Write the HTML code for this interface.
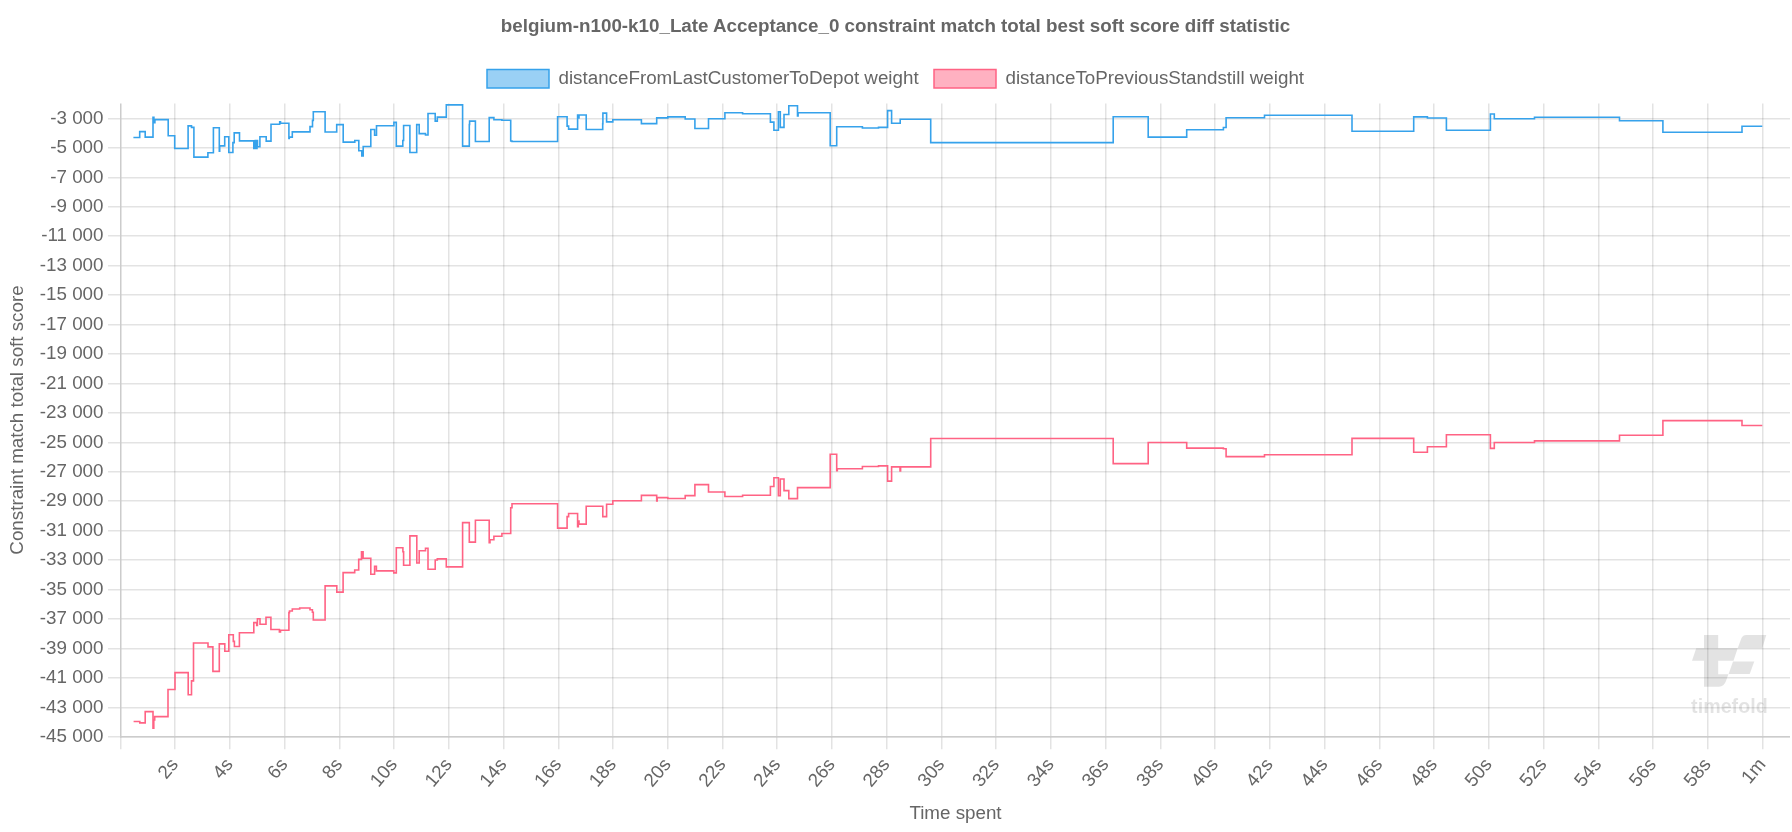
<!DOCTYPE html>
<html><head><meta charset="utf-8"><style>
html,body{margin:0;padding:0;background:#fff;width:1792px;height:832px;overflow:hidden}
svg{display:block;will-change:transform}
.t{font-family:"Liberation Sans",sans-serif;font-size:18.8px;fill:#666}
</style></head><body>
<svg width="1792" height="832" viewBox="0 0 1792 832">
<line x1="108" y1="118.75" x2="1790" y2="118.75" stroke="rgba(0,0,0,0.11)" stroke-width="1.5"/>
<line x1="108" y1="147.75" x2="1790" y2="147.75" stroke="rgba(0,0,0,0.11)" stroke-width="1.5"/>
<line x1="108" y1="177.75" x2="1790" y2="177.75" stroke="rgba(0,0,0,0.11)" stroke-width="1.5"/>
<line x1="108" y1="206.75" x2="1790" y2="206.75" stroke="rgba(0,0,0,0.11)" stroke-width="1.5"/>
<line x1="108" y1="235.75" x2="1790" y2="235.75" stroke="rgba(0,0,0,0.11)" stroke-width="1.5"/>
<line x1="108" y1="265.75" x2="1790" y2="265.75" stroke="rgba(0,0,0,0.11)" stroke-width="1.5"/>
<line x1="108" y1="294.75" x2="1790" y2="294.75" stroke="rgba(0,0,0,0.11)" stroke-width="1.5"/>
<line x1="108" y1="324.75" x2="1790" y2="324.75" stroke="rgba(0,0,0,0.11)" stroke-width="1.5"/>
<line x1="108" y1="353.75" x2="1790" y2="353.75" stroke="rgba(0,0,0,0.11)" stroke-width="1.5"/>
<line x1="108" y1="383.75" x2="1790" y2="383.75" stroke="rgba(0,0,0,0.11)" stroke-width="1.5"/>
<line x1="108" y1="412.75" x2="1790" y2="412.75" stroke="rgba(0,0,0,0.11)" stroke-width="1.5"/>
<line x1="108" y1="442.75" x2="1790" y2="442.75" stroke="rgba(0,0,0,0.11)" stroke-width="1.5"/>
<line x1="108" y1="471.75" x2="1790" y2="471.75" stroke="rgba(0,0,0,0.11)" stroke-width="1.5"/>
<line x1="108" y1="500.75" x2="1790" y2="500.75" stroke="rgba(0,0,0,0.11)" stroke-width="1.5"/>
<line x1="108" y1="530.75" x2="1790" y2="530.75" stroke="rgba(0,0,0,0.11)" stroke-width="1.5"/>
<line x1="108" y1="559.75" x2="1790" y2="559.75" stroke="rgba(0,0,0,0.11)" stroke-width="1.5"/>
<line x1="108" y1="589.75" x2="1790" y2="589.75" stroke="rgba(0,0,0,0.11)" stroke-width="1.5"/>
<line x1="108" y1="618.75" x2="1790" y2="618.75" stroke="rgba(0,0,0,0.11)" stroke-width="1.5"/>
<line x1="108" y1="648.75" x2="1790" y2="648.75" stroke="rgba(0,0,0,0.11)" stroke-width="1.5"/>
<line x1="108" y1="677.75" x2="1790" y2="677.75" stroke="rgba(0,0,0,0.11)" stroke-width="1.5"/>
<line x1="108" y1="707.75" x2="1790" y2="707.75" stroke="rgba(0,0,0,0.11)" stroke-width="1.5"/>
<line x1="108" y1="736.75" x2="1790" y2="736.75" stroke="rgba(0,0,0,0.11)" stroke-width="1.5"/>
<line x1="174.75" y1="103.60" x2="174.75" y2="749.3" stroke="rgba(0,0,0,0.11)" stroke-width="1.5"/>
<line x1="229.75" y1="103.60" x2="229.75" y2="749.3" stroke="rgba(0,0,0,0.11)" stroke-width="1.5"/>
<line x1="284.75" y1="103.60" x2="284.75" y2="749.3" stroke="rgba(0,0,0,0.11)" stroke-width="1.5"/>
<line x1="339.75" y1="103.60" x2="339.75" y2="749.3" stroke="rgba(0,0,0,0.11)" stroke-width="1.5"/>
<line x1="393.75" y1="103.60" x2="393.75" y2="749.3" stroke="rgba(0,0,0,0.11)" stroke-width="1.5"/>
<line x1="448.75" y1="103.60" x2="448.75" y2="749.3" stroke="rgba(0,0,0,0.11)" stroke-width="1.5"/>
<line x1="503.75" y1="103.60" x2="503.75" y2="749.3" stroke="rgba(0,0,0,0.11)" stroke-width="1.5"/>
<line x1="558.75" y1="103.60" x2="558.75" y2="749.3" stroke="rgba(0,0,0,0.11)" stroke-width="1.5"/>
<line x1="612.75" y1="103.60" x2="612.75" y2="749.3" stroke="rgba(0,0,0,0.11)" stroke-width="1.5"/>
<line x1="667.75" y1="103.60" x2="667.75" y2="749.3" stroke="rgba(0,0,0,0.11)" stroke-width="1.5"/>
<line x1="722.75" y1="103.60" x2="722.75" y2="749.3" stroke="rgba(0,0,0,0.11)" stroke-width="1.5"/>
<line x1="776.75" y1="103.60" x2="776.75" y2="749.3" stroke="rgba(0,0,0,0.11)" stroke-width="1.5"/>
<line x1="831.75" y1="103.60" x2="831.75" y2="749.3" stroke="rgba(0,0,0,0.11)" stroke-width="1.5"/>
<line x1="886.75" y1="103.60" x2="886.75" y2="749.3" stroke="rgba(0,0,0,0.11)" stroke-width="1.5"/>
<line x1="941.75" y1="103.60" x2="941.75" y2="749.3" stroke="rgba(0,0,0,0.11)" stroke-width="1.5"/>
<line x1="995.75" y1="103.60" x2="995.75" y2="749.3" stroke="rgba(0,0,0,0.11)" stroke-width="1.5"/>
<line x1="1050.75" y1="103.60" x2="1050.75" y2="749.3" stroke="rgba(0,0,0,0.11)" stroke-width="1.5"/>
<line x1="1105.75" y1="103.60" x2="1105.75" y2="749.3" stroke="rgba(0,0,0,0.11)" stroke-width="1.5"/>
<line x1="1160.75" y1="103.60" x2="1160.75" y2="749.3" stroke="rgba(0,0,0,0.11)" stroke-width="1.5"/>
<line x1="1214.75" y1="103.60" x2="1214.75" y2="749.3" stroke="rgba(0,0,0,0.11)" stroke-width="1.5"/>
<line x1="1269.75" y1="103.60" x2="1269.75" y2="749.3" stroke="rgba(0,0,0,0.11)" stroke-width="1.5"/>
<line x1="1324.75" y1="103.60" x2="1324.75" y2="749.3" stroke="rgba(0,0,0,0.11)" stroke-width="1.5"/>
<line x1="1379.75" y1="103.60" x2="1379.75" y2="749.3" stroke="rgba(0,0,0,0.11)" stroke-width="1.5"/>
<line x1="1433.75" y1="103.60" x2="1433.75" y2="749.3" stroke="rgba(0,0,0,0.11)" stroke-width="1.5"/>
<line x1="1488.75" y1="103.60" x2="1488.75" y2="749.3" stroke="rgba(0,0,0,0.11)" stroke-width="1.5"/>
<line x1="1543.75" y1="103.60" x2="1543.75" y2="749.3" stroke="rgba(0,0,0,0.11)" stroke-width="1.5"/>
<line x1="1598.75" y1="103.60" x2="1598.75" y2="749.3" stroke="rgba(0,0,0,0.11)" stroke-width="1.5"/>
<line x1="1652.75" y1="103.60" x2="1652.75" y2="749.3" stroke="rgba(0,0,0,0.11)" stroke-width="1.5"/>
<line x1="1707.75" y1="103.60" x2="1707.75" y2="749.3" stroke="rgba(0,0,0,0.11)" stroke-width="1.5"/>
<line x1="1762.75" y1="103.60" x2="1762.75" y2="749.3" stroke="rgba(0,0,0,0.11)" stroke-width="1.5"/>
<line x1="120.75" y1="736.55" x2="120.75" y2="749.3" stroke="rgba(0,0,0,0.11)" stroke-width="1.5"/>
<line x1="120.75" y1="103.60" x2="120.75" y2="737.50" stroke="#cccccc" stroke-width="1.5"/>
<line x1="120" y1="736.75" x2="1790" y2="736.75" stroke="#cccccc" stroke-width="1.5"/>
<text x="103.5" y="123.60" text-anchor="end" class="t">-3 000</text>
<text x="103.5" y="153.05" text-anchor="end" class="t">-5 000</text>
<text x="103.5" y="182.50" text-anchor="end" class="t">-7 000</text>
<text x="103.5" y="211.95" text-anchor="end" class="t">-9 000</text>
<text x="103.5" y="241.40" text-anchor="end" class="t">-11 000</text>
<text x="103.5" y="270.85" text-anchor="end" class="t">-13 000</text>
<text x="103.5" y="300.30" text-anchor="end" class="t">-15 000</text>
<text x="103.5" y="329.75" text-anchor="end" class="t">-17 000</text>
<text x="103.5" y="359.20" text-anchor="end" class="t">-19 000</text>
<text x="103.5" y="388.65" text-anchor="end" class="t">-21 000</text>
<text x="103.5" y="418.10" text-anchor="end" class="t">-23 000</text>
<text x="103.5" y="447.55" text-anchor="end" class="t">-25 000</text>
<text x="103.5" y="477.00" text-anchor="end" class="t">-27 000</text>
<text x="103.5" y="506.45" text-anchor="end" class="t">-29 000</text>
<text x="103.5" y="535.90" text-anchor="end" class="t">-31 000</text>
<text x="103.5" y="565.35" text-anchor="end" class="t">-33 000</text>
<text x="103.5" y="594.80" text-anchor="end" class="t">-35 000</text>
<text x="103.5" y="624.25" text-anchor="end" class="t">-37 000</text>
<text x="103.5" y="653.70" text-anchor="end" class="t">-39 000</text>
<text x="103.5" y="683.15" text-anchor="end" class="t">-41 000</text>
<text x="103.5" y="712.60" text-anchor="end" class="t">-43 000</text>
<text x="103.5" y="742.05" text-anchor="end" class="t">-45 000</text>
<text transform="translate(165.46 753.40) rotate(-50)" y="11.28" text-anchor="end" dominant-baseline="central" class="t">2s</text>
<text transform="translate(220.19 753.40) rotate(-50)" y="11.28" text-anchor="end" dominant-baseline="central" class="t">4s</text>
<text transform="translate(274.93 753.40) rotate(-50)" y="11.28" text-anchor="end" dominant-baseline="central" class="t">6s</text>
<text transform="translate(329.67 753.40) rotate(-50)" y="11.28" text-anchor="end" dominant-baseline="central" class="t">8s</text>
<text transform="translate(384.41 753.40) rotate(-50)" y="11.28" text-anchor="end" dominant-baseline="central" class="t">10s</text>
<text transform="translate(439.14 753.40) rotate(-50)" y="11.28" text-anchor="end" dominant-baseline="central" class="t">12s</text>
<text transform="translate(493.88 753.40) rotate(-50)" y="11.28" text-anchor="end" dominant-baseline="central" class="t">14s</text>
<text transform="translate(548.62 753.40) rotate(-50)" y="11.28" text-anchor="end" dominant-baseline="central" class="t">16s</text>
<text transform="translate(603.35 753.40) rotate(-50)" y="11.28" text-anchor="end" dominant-baseline="central" class="t">18s</text>
<text transform="translate(658.09 753.40) rotate(-50)" y="11.28" text-anchor="end" dominant-baseline="central" class="t">20s</text>
<text transform="translate(712.83 753.40) rotate(-50)" y="11.28" text-anchor="end" dominant-baseline="central" class="t">22s</text>
<text transform="translate(767.56 753.40) rotate(-50)" y="11.28" text-anchor="end" dominant-baseline="central" class="t">24s</text>
<text transform="translate(822.30 753.40) rotate(-50)" y="11.28" text-anchor="end" dominant-baseline="central" class="t">26s</text>
<text transform="translate(877.04 753.40) rotate(-50)" y="11.28" text-anchor="end" dominant-baseline="central" class="t">28s</text>
<text transform="translate(931.78 753.40) rotate(-50)" y="11.28" text-anchor="end" dominant-baseline="central" class="t">30s</text>
<text transform="translate(986.51 753.40) rotate(-50)" y="11.28" text-anchor="end" dominant-baseline="central" class="t">32s</text>
<text transform="translate(1041.25 753.40) rotate(-50)" y="11.28" text-anchor="end" dominant-baseline="central" class="t">34s</text>
<text transform="translate(1095.99 753.40) rotate(-50)" y="11.28" text-anchor="end" dominant-baseline="central" class="t">36s</text>
<text transform="translate(1150.72 753.40) rotate(-50)" y="11.28" text-anchor="end" dominant-baseline="central" class="t">38s</text>
<text transform="translate(1205.46 753.40) rotate(-50)" y="11.28" text-anchor="end" dominant-baseline="central" class="t">40s</text>
<text transform="translate(1260.20 753.40) rotate(-50)" y="11.28" text-anchor="end" dominant-baseline="central" class="t">42s</text>
<text transform="translate(1314.93 753.40) rotate(-50)" y="11.28" text-anchor="end" dominant-baseline="central" class="t">44s</text>
<text transform="translate(1369.67 753.40) rotate(-50)" y="11.28" text-anchor="end" dominant-baseline="central" class="t">46s</text>
<text transform="translate(1424.41 753.40) rotate(-50)" y="11.28" text-anchor="end" dominant-baseline="central" class="t">48s</text>
<text transform="translate(1479.14 753.40) rotate(-50)" y="11.28" text-anchor="end" dominant-baseline="central" class="t">50s</text>
<text transform="translate(1533.88 753.40) rotate(-50)" y="11.28" text-anchor="end" dominant-baseline="central" class="t">52s</text>
<text transform="translate(1588.62 753.40) rotate(-50)" y="11.28" text-anchor="end" dominant-baseline="central" class="t">54s</text>
<text transform="translate(1643.36 753.40) rotate(-50)" y="11.28" text-anchor="end" dominant-baseline="central" class="t">56s</text>
<text transform="translate(1698.09 753.40) rotate(-50)" y="11.28" text-anchor="end" dominant-baseline="central" class="t">58s</text>
<text transform="translate(1752.83 753.40) rotate(-50)" y="11.28" text-anchor="end" dominant-baseline="central" class="t">1m</text>
<g fill="rgba(0,0,0,0.11)">
<path d="M1704 635 H1718.2 V648.2 H1737.7 L1733.5 660.8 H1718.2 V674.2 H1728.4 L1726 681 Q1724 686.7 1719 686.7 H1704 V660.8 H1692 L1696.2 648.2 H1704 Z"/>
<path d="M1737.7 648.2 L1741.5 638 Q1743 635 1746 635 H1766.3 L1762.3 648.2 Z"/>
<path d="M1733 661.5 H1754.3 L1749.7 674 H1728.6 Z"/>
</g>
<text x="1729.4" y="712.5" text-anchor="middle" font-weight="bold" class="t" style="font-size:19.7px;fill:rgba(0,0,0,0.11)">timefold</text>
<path d="M133.4 137.5L139.7 137.5L139.7 131.6L145.2 131.6L145.2 137.1L153.0 137.1L153.0 117.3L153.9 117.3L153.9 122.8L154.9 122.8L154.9 119.6L168.2 119.6L168.2 135.7L174.7 135.7L174.7 148.5L188.1 148.5L188.1 125.9L191.5 125.9L191.5 127.4L193.9 127.4L193.9 157.1L207.9 157.1L207.9 152.7L213.4 152.7L213.4 127.8L219.3 127.8L219.3 151.2L219.7 151.2L219.7 145.9L224.7 145.9L224.7 136.8L228.8 136.8L228.8 152.5L232.9 152.5L232.9 142.6L234.2 142.6L234.2 132.9L239.5 132.9L239.5 140.9L253.8 140.9L253.8 148.5L255.3 148.5L255.3 140.5L256.0 140.5L256.0 148.5L257.0 148.5L257.0 140.5L257.5 140.5L257.5 146.8L259.9 146.8L259.9 136.7L266.2 136.7L266.2 141.1L271.0 141.1L271.0 124.3L279.7 124.3L279.7 121.8L280.5 121.8L280.5 123.2L288.9 123.2L288.9 138.4L289.3 138.4L289.3 137.1L292.3 137.1L292.3 131.9L310.0 131.9L310.0 126.6L312.5 126.6L312.5 120.4L313.3 120.4L313.3 111.7L325.1 111.7L325.1 132.0L336.7 132.0L336.7 124.6L343.2 124.6L343.2 142.1L354.8 142.1L354.8 140.5L358.8 140.5L358.8 150.7L361.8 150.7L361.8 156.0L363.2 156.0L363.2 146.5L370.8 146.5L370.8 129.5L374.6 129.5L374.6 135.2L376.5 135.2L376.5 125.7L393.9 125.7L393.9 122.4L396.3 122.4L396.3 146.1L402.8 146.1L402.8 140.5L403.6 140.5L403.6 125.5L409.9 125.5L409.9 152.5L416.7 152.5L416.7 124.6L419.2 124.6L419.2 133.6L425.5 133.6L425.5 135.0L428.0 135.0L428.0 113.5L435.2 113.5L435.2 121.1L437.3 121.1L437.3 117.1L446.3 117.1L446.3 104.9L462.6 104.9L462.6 146.1L469.3 146.1L469.3 124.5L469.6 124.5L469.6 121.1L475.4 121.1L475.4 141.5L489.2 141.5L489.2 117.6L493.9 117.6L493.9 119.7L501.9 119.7L501.9 120.3L510.7 120.3L510.7 141.0L512.0 141.0L512.0 141.5L557.6 141.5L557.6 116.7L567.1 116.7L567.1 126.1L568.6 126.1L568.6 129.1L577.6 129.1L577.6 115.0L578.3 115.0L578.3 118.0L579.0 118.0L579.0 115.0L586.2 115.0L586.2 129.5L602.7 129.5L602.7 123.6L602.9 123.6L602.9 113.1L606.6 113.1L606.6 121.9L612.8 121.9L612.8 119.8L641.4 119.8L641.4 123.6L656.7 123.6L656.7 117.9L667.8 117.9L667.8 116.9L685.2 116.9L685.2 119.0L694.9 119.0L694.9 128.5L708.5 128.5L708.5 118.7L724.9 118.7L724.9 112.8L742.6 112.8L742.6 113.7L770.4 113.7L770.4 122.1L773.9 122.1L773.9 130.2L778.4 130.2L778.4 111.8L780.3 111.8L780.3 127.4L784.0 127.4L784.0 114.5L788.8 114.5L788.8 105.8L797.5 105.8L797.5 115.9L798.1 115.9L798.1 112.7L830.2 112.7L830.2 145.8L836.7 145.8L836.7 126.8L862.4 126.8L862.4 128.0L878.5 128.0L878.5 127.4L887.6 127.4L887.6 110.6L891.6 110.6L891.6 123.2L900.2 123.2L900.2 119.2L930.7 119.2L930.7 142.6L1113.2 142.6L1113.2 116.7L1148.2 116.7L1148.2 137.1L1186.7 137.1L1186.7 129.7L1223.4 129.7L1223.4 127.5L1226.1 127.5L1226.1 117.7L1264.5 117.7L1264.5 115.3L1352.0 115.3L1352.0 131.2L1413.7 131.2L1413.7 116.9L1427.4 116.9L1427.4 118.0L1446.4 118.0L1446.4 130.2L1490.4 130.2L1490.4 114.0L1494.3 114.0L1494.3 118.7L1534.5 118.7L1534.5 117.3L1619.5 117.3L1619.5 120.8L1662.9 120.8L1662.9 132.2L1742.0 132.2L1742.0 126.3L1762.3 126.3L1762.3 126.3" fill="none" stroke="rgb(54,162,235)" stroke-width="1.6" stroke-linejoin="miter" stroke-linecap="butt"/>
<path d="M133.6 721.5L139.8 721.5L139.8 722.9L145.2 722.9L145.2 711.6L153.0 711.6L153.0 728.1L153.8 728.1L153.8 719.9L154.7 719.9L154.7 716.6L168.0 716.6L168.0 689.5L175.0 689.5L175.0 672.6L188.2 672.6L188.2 694.8L191.5 694.8L191.5 680.9L193.5 680.9L193.5 643.0L208.0 643.0L208.0 646.9L212.9 646.9L212.9 671.4L219.3 671.4L219.3 643.9L224.8 643.9L224.8 651.2L228.8 651.2L228.8 634.8L233.3 634.8L233.3 641.4L234.4 641.4L234.4 646.5L239.4 646.5L239.4 632.8L253.8 632.8L253.8 622.6L256.7 622.6L256.7 625.5L257.4 625.5L257.4 618.7L260.0 618.7L260.0 624.2L266.0 624.2L266.0 617.3L270.9 617.3L270.9 629.5L279.4 629.5L279.4 631.9L280.5 631.9L280.5 630.2L288.9 630.2L288.9 612.6L289.5 612.6L289.5 611.0L292.3 611.0L292.3 609.0L299.7 609.0L299.7 608.0L310.0 608.0L310.0 609.7L312.4 609.7L312.4 612.3L313.3 612.3L313.3 620.0L325.1 620.0L325.1 585.9L336.8 585.9L336.8 592.1L343.1 592.1L343.1 572.6L354.7 572.6L354.7 570.0L358.7 570.0L358.7 559.4L361.5 559.4L361.5 551.7L363.1 551.7L363.1 558.3L370.8 558.3L370.8 574.2L374.6 574.2L374.6 566.3L376.4 566.3L376.4 570.9L393.8 570.9L393.8 572.9L396.3 572.9L396.3 547.8L402.9 547.8L402.9 551.7L403.6 551.7L403.6 565.3L409.9 565.3L409.9 535.9L416.8 535.9L416.8 563.0L419.2 563.0L419.2 550.7L425.5 550.7L425.5 548.3L428.0 548.3L428.0 569.2L435.2 569.2L435.2 560.0L437.3 560.0L437.3 558.9L446.3 558.9L446.3 566.9L462.6 566.9L462.6 522.6L469.3 522.6L469.3 542.1L475.4 542.1L475.4 520.3L489.2 520.3L489.2 542.8L490.0 542.8L490.0 539.8L493.9 539.8L493.9 536.2L501.9 536.2L501.9 533.5L510.7 533.5L510.7 507.8L512.0 507.8L512.0 503.8L557.6 503.8L557.6 528.1L567.1 528.1L567.1 516.6L568.6 516.6L568.6 513.5L577.6 513.5L577.6 526.8L578.3 526.8L578.3 521.0L579.0 521.0L579.0 524.1L586.2 524.1L586.2 506.3L602.8 506.3L602.8 516.6L606.6 516.6L606.6 504.3L612.8 504.3L612.8 500.7L641.4 500.7L641.4 495.4L656.7 495.4L656.7 500.9L657.2 500.9L657.2 497.6L667.8 497.6L667.8 498.5L685.2 498.5L685.2 495.6L694.9 495.6L694.9 484.6L708.5 484.6L708.5 492.0L724.9 492.0L724.9 496.5L742.6 496.5L742.6 495.3L770.4 495.3L770.4 486.5L773.9 486.5L773.9 477.7L778.4 477.7L778.4 495.8L780.3 495.8L780.3 479.0L784.0 479.0L784.0 490.6L788.8 490.6L788.8 498.6L797.5 498.6L797.5 487.6L830.2 487.6L830.2 454.3L836.7 454.3L836.7 470.7L837.3 470.7L837.3 468.8L862.4 468.8L862.4 466.5L878.5 466.5L878.5 465.9L887.6 465.9L887.6 481.1L891.6 481.1L891.6 466.9L900.0 466.9L900.0 470.9L900.6 470.9L900.6 466.9L930.7 466.9L930.7 438.5L1113.2 438.5L1113.2 463.6L1148.2 463.6L1148.2 442.5L1186.7 442.5L1186.7 448.1L1223.4 448.1L1223.4 448.8L1226.1 448.8L1226.1 456.6L1264.5 456.6L1264.5 454.7L1352.0 454.7L1352.0 438.4L1413.7 438.4L1413.7 452.3L1427.4 452.3L1427.4 446.8L1446.4 446.8L1446.4 434.8L1490.4 434.8L1490.4 448.4L1494.3 448.4L1494.3 442.5L1534.5 442.5L1534.5 440.9L1619.5 440.9L1619.5 435.2L1662.9 435.2L1662.9 420.6L1742.0 420.6L1742.0 425.5L1762.3 425.5L1762.3 425.5" fill="none" stroke="rgb(255,99,132)" stroke-width="1.6" stroke-linejoin="miter" stroke-linecap="butt"/>
<rect x="487" y="69.5" width="62" height="18.5" fill="rgba(54,162,235,0.5)" stroke="rgb(54,162,235)" stroke-width="1.5"/>
<text x="558.5" y="83.7" class="t">distanceFromLastCustomerToDepot weight</text>
<rect x="934" y="69.5" width="62" height="18.5" fill="rgba(255,99,132,0.5)" stroke="rgb(255,99,132)" stroke-width="1.5"/>
<text x="1005.5" y="83.7" class="t">distanceToPreviousStandstill weight</text>
<text x="895.5" y="32.1" text-anchor="middle" class="t" font-weight="bold">belgium-n100-k10_Late Acceptance_0 constraint match total best soft score diff statistic</text>
<text x="955.5" y="819" text-anchor="middle" class="t">Time spent</text>
<text transform="translate(23 420) rotate(-90)" text-anchor="middle" class="t">Constraint match total soft score</text>
</svg>
</body></html>
